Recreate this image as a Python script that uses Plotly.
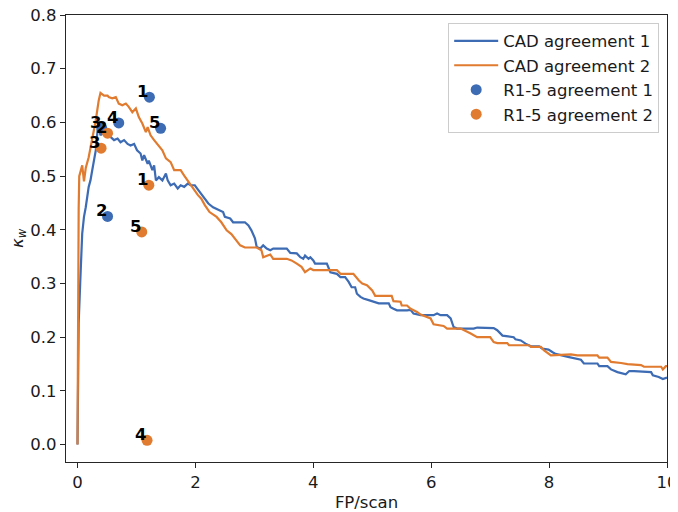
import plotly.graph_objects as go

# CAD agreement 1 (blue curve)
cad1_x = [0.0, 0.01, 0.02, 0.05, 0.08, 0.11, 0.14, 0.19, 0.22, 0.25,
          0.28, 0.31, 0.34, 0.36, 0.39, 0.45, 0.51, 0.56, 0.62, 0.68,
          0.73, 0.79, 0.85, 0.90, 0.96, 1.01, 1.07, 1.10, 1.13, 1.19,
          1.21, 1.27, 1.30, 1.33, 1.38, 1.44, 1.50, 1.53, 1.58, 1.64,
          1.70, 1.75, 1.81, 1.87, 1.92, 1.99, 2.05, 2.10, 2.16, 2.22,
          2.30, 2.39, 2.47, 2.50, 2.59, 2.64, 2.84, 2.90, 2.95, 3.01,
          3.04, 3.10, 3.15, 3.21, 3.27, 3.32, 3.55, 3.61, 3.72, 3.78,
          3.83, 3.86, 3.92, 3.95, 4.00, 4.03, 4.23, 4.29, 4.40, 4.46,
          4.54, 4.60, 4.65, 4.71, 4.74, 4.80, 4.85, 4.94, 5.02, 5.11,
          5.28, 5.31, 5.36, 5.42, 5.59, 5.65, 5.70, 5.82, 6.04, 6.10,
          6.16, 6.27, 6.33, 6.38, 6.44, 6.72, 6.78, 7.06, 7.12, 7.21,
          7.40, 7.43, 7.52, 7.60, 7.69, 7.83, 7.88, 7.99, 8.06, 8.11,
          8.34, 8.54, 8.59, 8.82, 8.85, 8.99, 9.05, 9.16, 9.30, 9.36,
          9.44, 9.73, 9.76, 9.86, 9.93, 10.0]
cad1_y = [0.0, 0.12, 0.226, 0.312, 0.393, 0.424, 0.442, 0.480, 0.492, 0.511,
          0.529, 0.548, 0.585, 0.592, 0.576, 0.582, 0.573, 0.573, 0.567, 0.570,
          0.563, 0.567, 0.560, 0.557, 0.560, 0.548, 0.542, 0.529, 0.539, 0.523,
          0.529, 0.511, 0.520, 0.492, 0.498, 0.492, 0.505, 0.492, 0.483, 0.486,
          0.477, 0.483, 0.480, 0.486, 0.483, 0.483, 0.474, 0.467, 0.458, 0.449,
          0.442, 0.438, 0.433, 0.424, 0.421, 0.414, 0.414, 0.408, 0.399, 0.384,
          0.368, 0.365, 0.371, 0.365, 0.362, 0.365, 0.365, 0.357, 0.356, 0.349,
          0.346, 0.352, 0.346, 0.349, 0.343, 0.337, 0.337, 0.321, 0.318, 0.312,
          0.312, 0.303, 0.293, 0.293, 0.281, 0.275, 0.272, 0.269, 0.266, 0.263,
          0.263, 0.256, 0.253, 0.250, 0.250, 0.251, 0.244, 0.241, 0.241, 0.244,
          0.241, 0.241, 0.235, 0.219, 0.216, 0.216, 0.218, 0.217, 0.213, 0.203,
          0.200, 0.196, 0.194, 0.188, 0.183, 0.183, 0.179, 0.177, 0.172, 0.169,
          0.163, 0.158, 0.151, 0.151, 0.146, 0.146, 0.140, 0.135, 0.131, 0.137,
          0.137, 0.135, 0.129, 0.126, 0.122, 0.125]

# CAD agreement 2 (orange curve)
cad2_x = [0.0, 0.01, 0.02, 0.03, 0.05, 0.08, 0.11, 0.14, 0.19, 0.25,
          0.31, 0.36, 0.39, 0.45, 0.51, 0.53, 0.59, 0.65, 0.70, 0.76,
          0.82, 0.87, 0.93, 0.99, 1.04, 1.10, 1.16, 1.19, 1.24, 1.30,
          1.38, 1.44, 1.50, 1.58, 1.64, 1.75, 1.81, 1.87, 1.95, 2.04,
          2.10, 2.16, 2.24, 2.36, 2.44, 2.53, 2.61, 2.70, 2.76, 2.84,
          3.04, 3.12, 3.15, 3.27, 3.32, 3.55, 3.63, 3.72, 3.80, 3.86,
          3.95, 4.00, 4.40, 4.46, 4.68, 4.77, 4.83, 4.91, 5.00, 5.05,
          5.33, 5.36, 5.48, 5.50, 5.59, 5.65, 5.76, 5.82, 5.99, 6.04,
          6.21, 6.27, 6.50, 6.67, 6.78, 7.00, 7.06, 7.12, 7.29, 7.32,
          7.66, 7.69, 7.86, 7.91, 8.03, 8.37, 8.48, 8.82, 8.85, 8.99,
          9.05, 9.22, 9.33, 9.56, 9.61, 9.90, 9.93, 9.98, 10.0]
cad2_y = [0.0, 0.30, 0.44, 0.50, 0.51, 0.52, 0.49, 0.515, 0.535, 0.567,
          0.604, 0.641, 0.655, 0.650, 0.650, 0.647, 0.645, 0.647, 0.635, 0.632,
          0.635, 0.629, 0.619, 0.626, 0.610, 0.598, 0.582, 0.591, 0.576, 0.567,
          0.557, 0.548, 0.533, 0.526, 0.511, 0.511, 0.501, 0.492, 0.478, 0.465,
          0.458, 0.446, 0.433, 0.424, 0.414, 0.399, 0.392, 0.380, 0.371, 0.367,
          0.367, 0.362, 0.349, 0.354, 0.346, 0.346, 0.343, 0.337, 0.331, 0.321,
          0.328, 0.325, 0.325, 0.318, 0.318, 0.306, 0.300, 0.297, 0.287, 0.277,
          0.277, 0.267, 0.266, 0.259, 0.259, 0.253, 0.247, 0.242, 0.235, 0.224,
          0.221, 0.216, 0.216, 0.207, 0.200, 0.200, 0.191, 0.189, 0.189, 0.185,
          0.185, 0.182, 0.182, 0.176, 0.166, 0.168, 0.166, 0.166, 0.162, 0.162,
          0.154, 0.152, 0.150, 0.148, 0.145, 0.145, 0.140, 0.146, 0.146]

# Readers R1-R5
reader_labels = ["1", "2", "3", "4", "5"]
r_agree1_x = [1.22, 0.51, 0.41, 0.70, 1.41]
r_agree1_y = [0.647, 0.425, 0.590, 0.599, 0.589]
r_agree2_x = [1.21, 0.51, 0.40, 1.18, 1.09]
r_agree2_y = [0.483, 0.580, 0.552, 0.008, 0.396]

x_ticks = [0, 2, 4, 6, 8, 10]
y_ticks = [0.0, 0.1, 0.2, 0.3, 0.4, 0.5, 0.6, 0.7, 0.8]

BLUE = "#3D6BB4"
ORANGE = "#E07B2F"
FONT = "DejaVu Sans"
FS = 16.5

fig = go.Figure()
fig.add_trace(go.Scatter(x=cad1_x, y=cad1_y, mode="lines", name="CAD agreement 1",
                         line=dict(color=BLUE, width=2.2)))
fig.add_trace(go.Scatter(x=cad2_x, y=cad2_y, mode="lines", name="CAD agreement 2",
                         line=dict(color=ORANGE, width=2.2)))
fig.add_trace(go.Scatter(x=r_agree1_x, y=r_agree1_y, mode="markers", name="R1-5 agreement 1",
                         marker=dict(color=BLUE, size=11)))
fig.add_trace(go.Scatter(x=r_agree2_x, y=r_agree2_y, mode="markers", name="R1-5 agreement 2",
                         marker=dict(color=ORANGE, size=11)))

for xs, ys in ((r_agree1_x, r_agree1_y), (r_agree2_x, r_agree2_y)):
    for lab, xv, yv in zip(reader_labels, xs, ys):
        fig.add_annotation(x=xv, y=yv, text="<b>%s</b>" % lab, showarrow=False,
                           xanchor="right", yanchor="bottom", xshift=1, yshift=-6,
                           font=dict(family=FONT, size=FS, color="black"))

axis_common = dict(showline=True, mirror=True, linecolor="#262626", linewidth=1.2,
                   ticks="outside", ticklen=5, tickwidth=1.2, tickcolor="#262626",
                   showgrid=False, zeroline=False, automargin=False,
                   ticklabeloverflow="allow",
                   tickfont=dict(family=FONT, size=FS, color="#1a1a1a"))

fig.update_layout(
    width=670, height=504,
    margin=dict(l=58, r=11, t=7, b=50),
    paper_bgcolor="white", plot_bgcolor="white",
    font=dict(family=FONT, size=FS, color="#1a1a1a"),
    xaxis=dict(range=[-0.195, 10], tickvals=x_ticks, ticktext=[str(v) for v in x_ticks],
               title=dict(text="FP/scan", font=dict(family=FONT, size=FS), standoff=6),
               **axis_common),
    yaxis=dict(range=[-0.0324, 0.8], tickvals=y_ticks, ticktext=["%.1f" % v for v in y_ticks],
               title=dict(text="<i>κ</i><sub><i>w</i></sub>", font=dict(family=FONT, size=FS), standoff=11),
               **axis_common),
    legend=dict(x=0.987, y=0.983, xanchor="right", yanchor="top", itemwidth=44,
                bgcolor="rgba(255,255,255,0.8)", bordercolor="#cccccc", borderwidth=1,
                font=dict(family=FONT, size=FS, color="#1a1a1a")),
    showlegend=True,
)

fig.write_html("out.html")
